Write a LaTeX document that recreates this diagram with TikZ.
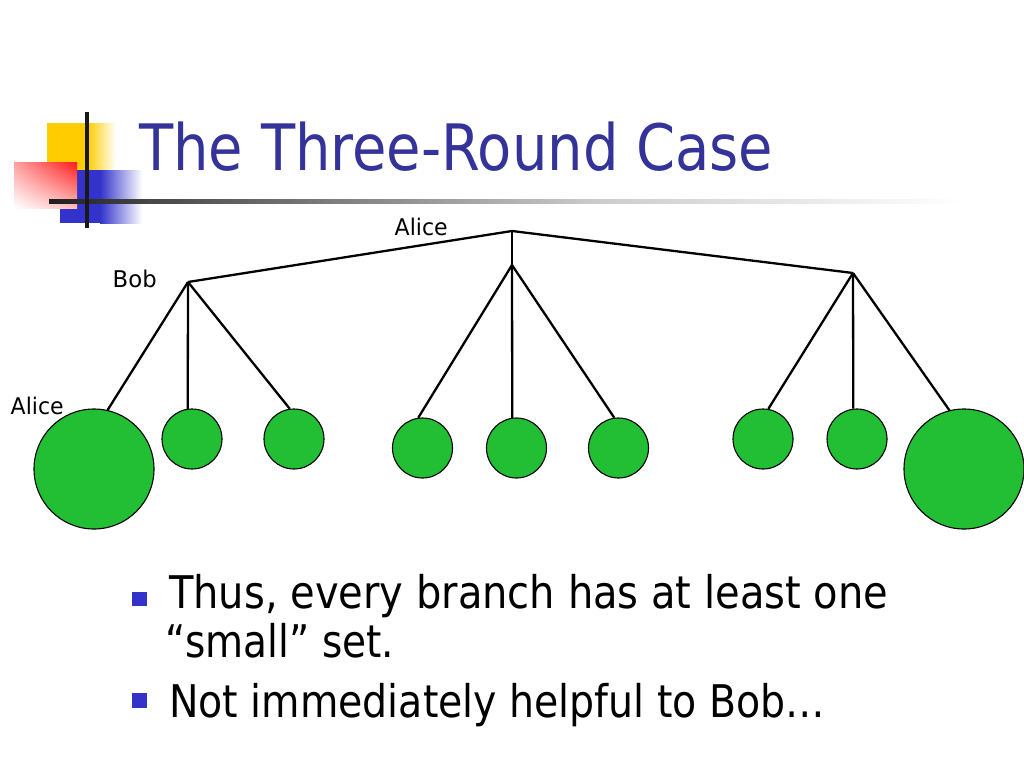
\documentclass[tikz,border=0pt]{standalone}
\usepackage{fontspec}
\setmainfont{DejaVu Sans}
\usepackage{graphicx}
\usetikzlibrary{shadings}
\newlength\fitlen
\newcommand\fitw[2]{\settowidth\fitlen{#2}\pgfmathsetmacro\fitr{#1/\fitlen}\global\let\lastfitr\fitr\scalebox{\fitr}[1]{#2}}
\definecolor{titleblue}{HTML}{333399}
\definecolor{bulletblue}{HTML}{3333CC}
\definecolor{leafgreen}{HTML}{22BE33}
\definecolor{logoyellow}{HTML}{FFCC00}
\definecolor{logored}{HTML}{FF1A1A}
\definecolor{logopink}{HTML}{FFA0A0}
\definecolor{logoblue}{HTML}{3333CC}
\begin{document}
\begin{tikzpicture}[x=1pt,y=-1pt,
  edge/.style={draw=black,line width=2.3pt},
  leaf/.style={circle,draw=black,line width=1.1pt,fill=leafgreen,inner sep=0pt,minimum size=60pt},
  bigleaf/.style={leaf,minimum size=120pt},
  lbl/.style={anchor=base west,inner sep=0pt,font=\fontsize{23}{26}\selectfont},
  bullettext/.style={anchor=base west,inner sep=0pt,font=\fontsize{45}{54}\selectfont},
  bsq/.style={rectangle,fill=bulletblue,inner sep=0pt,minimum size=14.5pt}]
\useasboundingbox (0,0) rectangle (1024,768);
\fill[white] (0,0) rectangle (1024,768);
% logo
\fill[logoyellow] (47,123) rectangle (87.5,170);
\shade[left color=logoyellow,right color=white] (87,123) rectangle (116,170);
\fill[logoblue] (60,170) rectangle (100.5,223);
\shade[left color=logoblue,right color=white] (100,170) rectangle (142,223);
\shade[upper right=logored,upper left=logopink,lower right=logopink!70!white,lower left=white] (14,162) rectangle (77,208);
\shade[left color=black!88,right color=black!72] (49,199) rectangle (150,203.5);
\shade[left color=black!72,right color=black!20] (150,199) rectangle (600,203.5);
\shade[left color=black!20,right color=white] (600,199) rectangle (962,203.5);
\fill[black!90] (85,112) rectangle (89,228);
% title
\node[anchor=base west,inner sep=0pt,font=\fontsize{64}{70}\selectfont,text=titleblue] (title) at (139,170) {\fitw{634pt}{The Three-Round Case}};
% tree
\coordinate (root) at (512,231);
\coordinate (bobL) at (188,282);
\coordinate (bobM) at (512,265);
\coordinate (bobR) at (853,273);
\node[bigleaf] (l1) at (94,469) {};
\node[leaf] (l2) at (192,439) {};
\node[leaf] (l3) at (294,439) {};
\node[leaf] (m1) at (422.5,448) {};
\node[leaf] (m2) at (516.5,448) {};
\node[leaf] (m3) at (618.5,448) {};
\node[leaf] (r1) at (763,439) {};
\node[leaf] (r2) at (857,439) {};
\node[bigleaf] (r3) at (964,469) {};
\draw[edge] (root) -- (bobL);
\draw[edge] (root) -- (bobM);
\draw[edge] (root) -- (bobR);
\draw[edge] (bobL) -- (l1.77);
\draw[edge] (bobL) -- (l2.98);
\draw[edge] (bobL) -- (l3.98);
\draw[edge] (bobM) -- (m1.98.5);
\draw[edge] (bobM) -- (m2.98.5);
\draw[edge] (bobM) -- (m3.98.5);
\draw[edge] (bobR) -- (r1.80.5);
\draw[edge] (bobR) -- (r2.97.6);
\draw[edge] (bobR) -- (r3.104);
% labels
\node[lbl] (alicetop) at (394.5,235) {\fitw{53pt}{Alice}};
\node[lbl] (boblbl) at (112.5,287) {\fitw{44pt}{Bob}};
\node[lbl] (aliceleft) at (10.5,414) {\fitw{53pt}{Alice}};
% bullets
\node[bsq] (b1) at (139.5,599) {};
\node[bsq] (b2) at (139.5,700.5) {};
\node[bullettext] (t1) at (169,608) {\fitw{719pt}{Thus, every branch has at least one}};
\node[bullettext] (t2) at (165,657) {\fitw{229pt}{“small” set.}};
\node[bullettext] (t3) at (169,717) {\fitw{656pt}{Not immediately helpful to Bob…}};
\end{tikzpicture}
\end{document}
